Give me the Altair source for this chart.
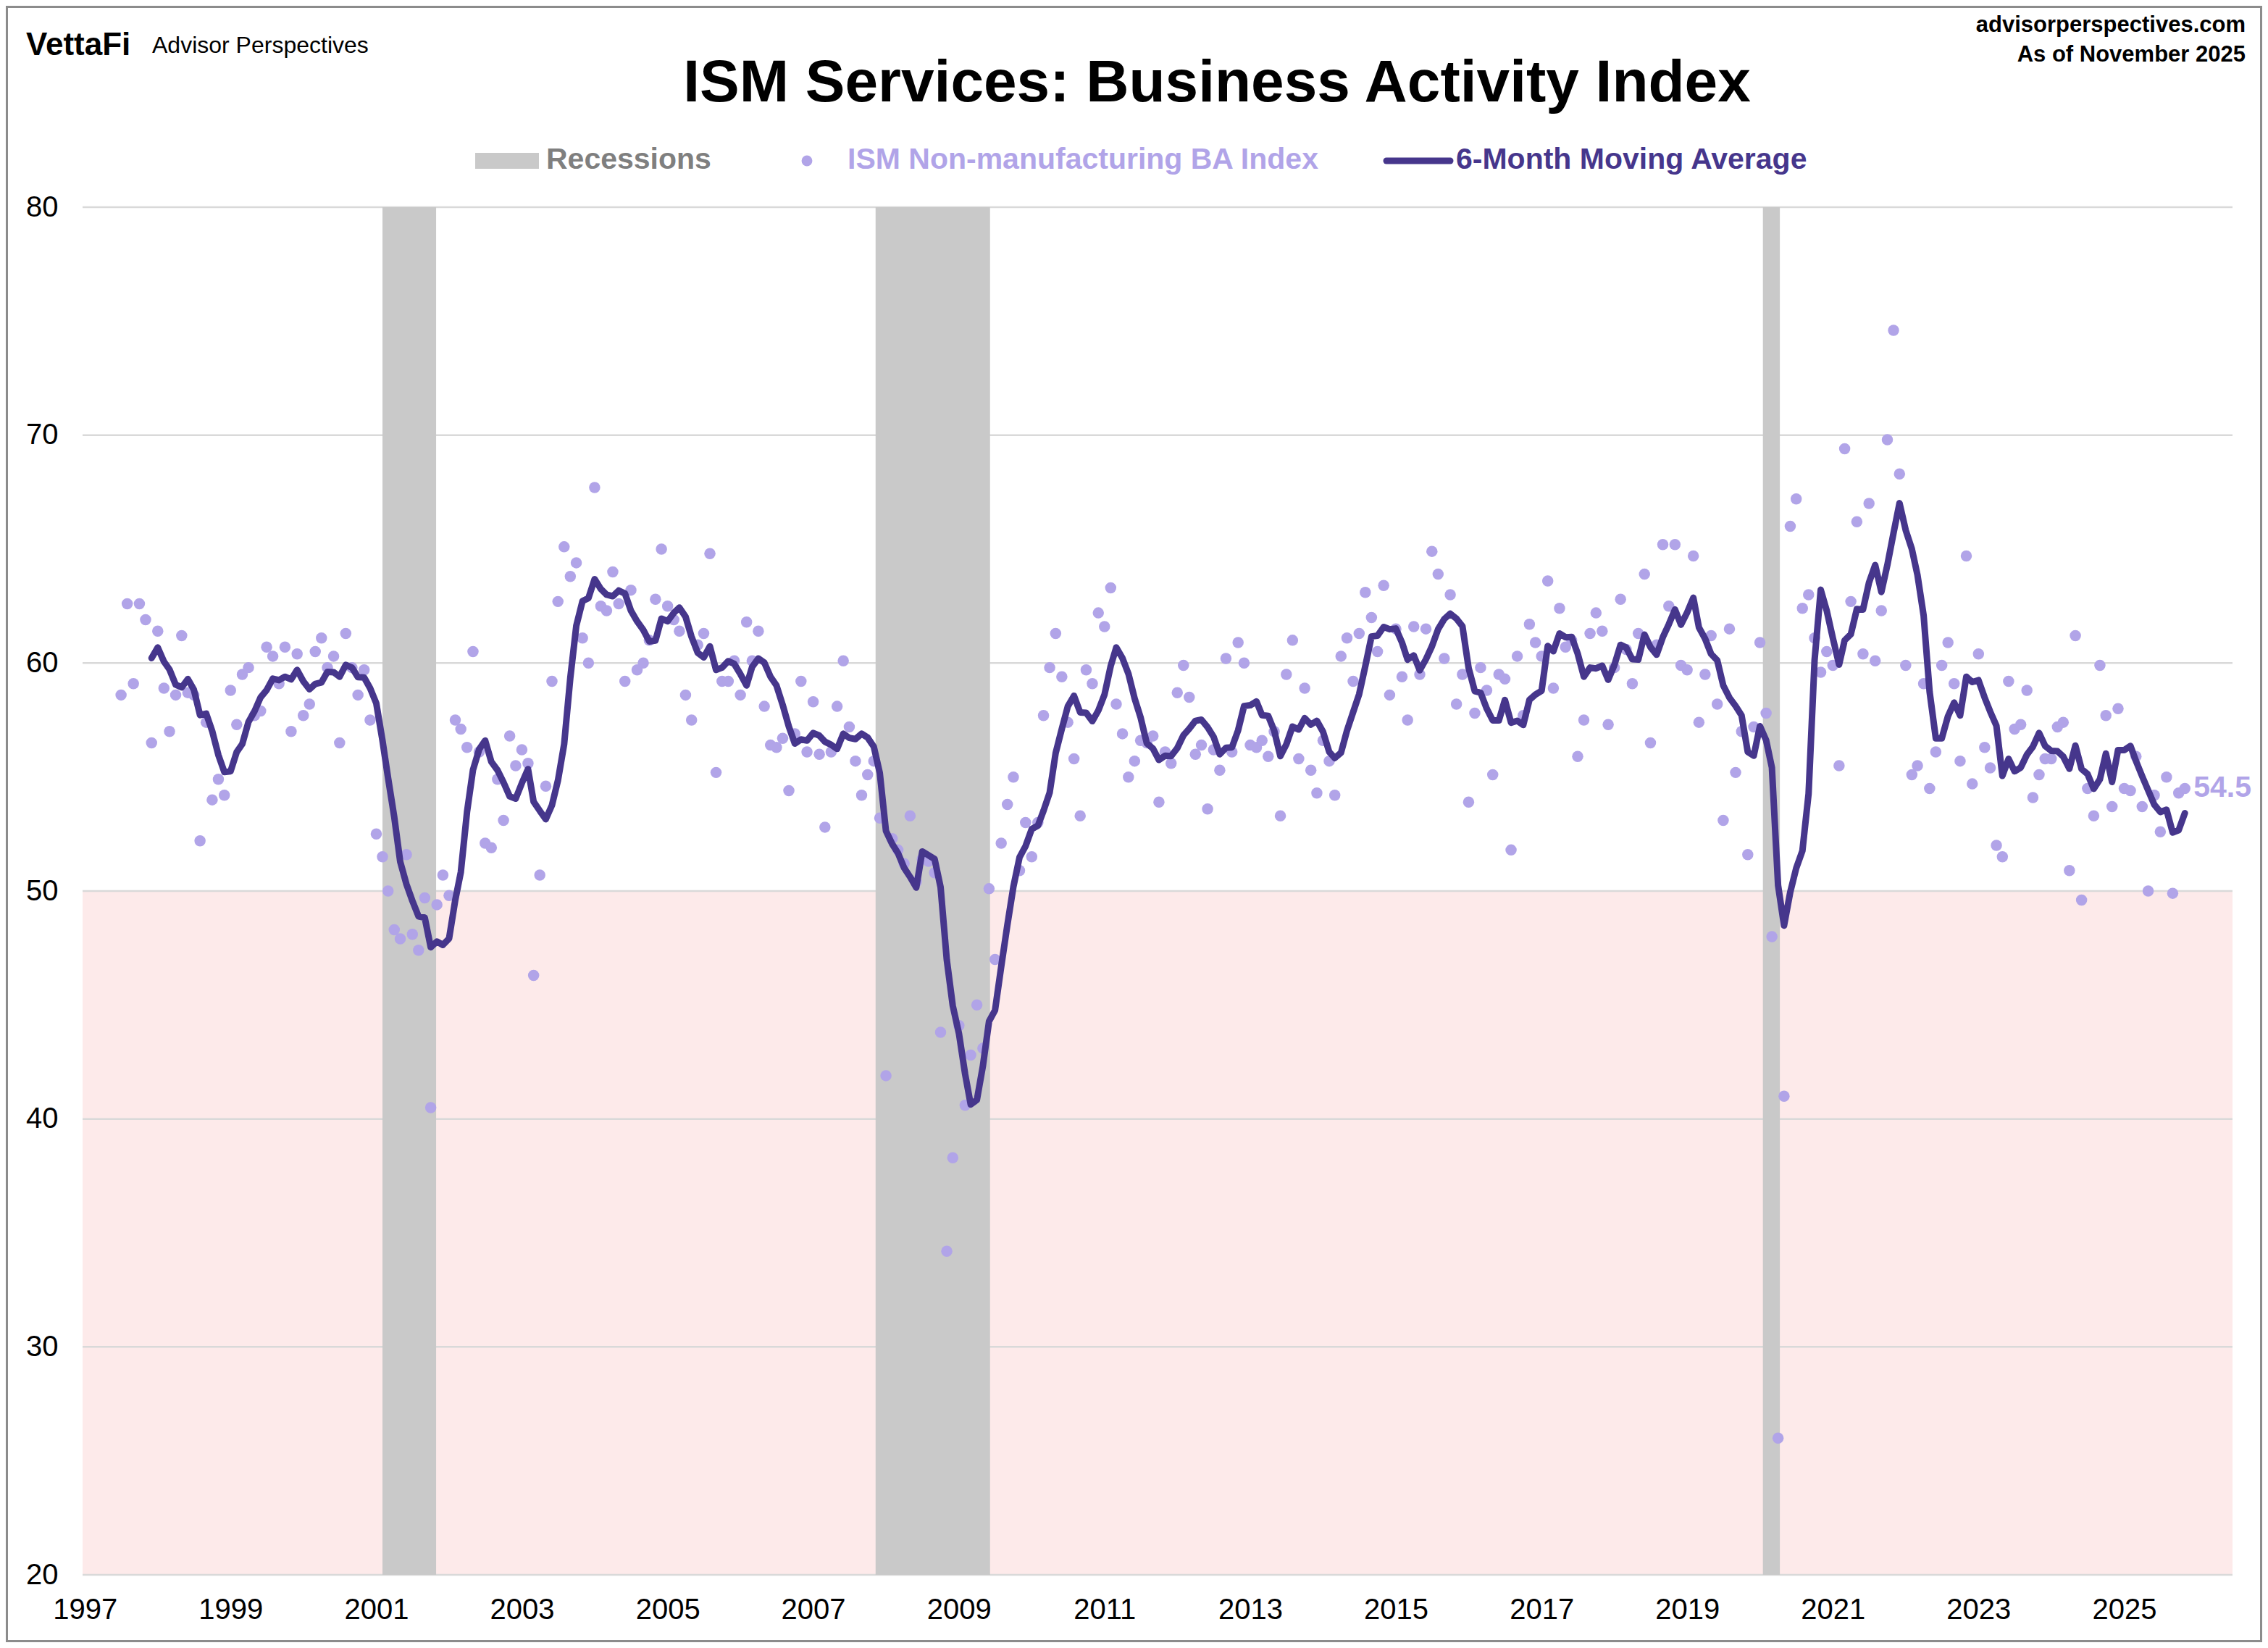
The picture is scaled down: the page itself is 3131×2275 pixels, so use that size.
import altair as alt
import pandas as pd

# ISM Services (non-manufacturing) Business Activity index, monthly, Jul 1997 - Nov 2025
first_month = "1997-07-01"
ba_index = [
    58.6, 62.6, 59.1, 62.6, 61.9, 56.5,                                # 1997 (Jul-Dec)
    61.4, 58.9, 57.0, 58.6, 61.2, 58.7, 58.6, 52.2, 57.4, 54.0, 54.9, 54.2,  # 1998
    58.8, 57.3, 59.5, 59.8, 57.7, 57.9, 60.7, 60.3, 59.1, 60.7, 57.0, 60.4,  # 1999
    57.7, 58.2, 60.5, 61.1, 59.8, 60.3, 56.5, 61.3, 59.8, 58.6, 59.7, 57.5,  # 2000
    52.5, 51.5, 50.0, 48.3, 47.9, 51.6, 48.1, 47.4, 49.7, 40.5, 49.4, 50.7,  # 2001
    49.8, 57.5, 57.1, 56.3, 60.5, 56.1, 52.1, 51.9, 54.9, 53.1, 56.8, 55.5,  # 2002
    56.2, 55.6, 46.3, 50.7, 54.6, 59.2, 62.7, 65.1, 63.8, 64.4, 61.1, 60.0,  # 2003
    67.7, 62.5, 62.3, 64.0, 62.6, 59.2, 63.2, 59.7, 60.0, 61.0, 62.8, 65.0,  # 2004
    62.5, 61.9, 61.4, 58.6, 57.5, 60.8, 61.3, 64.8, 55.2, 59.2, 59.2, 60.1,  # 2005
    58.6, 61.8, 60.1, 61.4, 58.1, 56.4, 56.3, 56.7, 54.4, 56.9, 59.2, 56.1,  # 2006
    58.3, 56.0, 52.8, 56.1, 58.1, 60.1, 57.2, 55.7, 54.2, 55.1, 55.7, 53.2,  # 2007
    41.9, 52.3, 51.8, 51.2, 53.3, 50.4, 51.4, 51.3, 50.8, 43.8, 34.2, 38.3,  # 2008
    44.1, 40.6, 42.8, 45.0, 43.1, 50.1, 47.0, 52.1, 53.8, 55.0, 50.9, 53.0,  # 2009
    51.5, 53.0, 57.7, 59.8, 61.3, 59.4, 57.4, 55.8, 53.3, 59.7, 59.1, 62.2,  # 2010
    61.6, 63.3, 58.2, 56.9, 55.0, 55.7, 56.6, 56.5, 56.8, 53.9, 56.1, 55.6,  # 2011
    58.7, 59.9, 58.5, 56.0, 56.4, 53.6, 56.2, 55.3, 60.2, 56.1, 60.9, 60.0,  # 2012
    56.4, 56.3, 56.6, 55.9, 57.0, 53.3, 59.5, 61.0, 55.8, 58.9, 55.3, 54.3,  # 2013
    56.6, 55.7, 54.2, 60.3, 61.1, 59.2, 61.3, 63.1, 62.0, 60.5, 63.4, 58.6,  # 2014
    61.5, 59.4, 57.5, 61.6, 59.5, 61.5, 64.9, 63.9, 60.2, 63.0, 58.2, 59.5,  # 2015
    53.9, 57.8, 59.8, 58.8, 55.1, 59.5, 59.3, 51.8, 60.3, 57.7, 61.7, 60.9,  # 2016
    60.3, 63.6, 58.9, 62.4, 60.7, 61.0, 55.9, 57.5, 61.3, 62.2, 61.4, 57.3,  # 2017
    59.8, 62.8, 60.6, 59.1, 61.3, 63.9, 56.5, 60.8, 65.2, 62.5, 65.2, 59.9,  # 2018
    59.7, 64.7, 57.4, 59.5, 61.2, 58.2, 53.1, 61.5, 55.2, 57.0, 51.6, 57.2,  # 2019
    60.9, 57.8, 48.0, 26.0, 41.0, 66.0, 67.2, 62.4, 63.0, 61.1, 59.6, 60.5,  # 2020
    59.9, 55.5, 69.4, 62.7, 66.2, 60.4, 67.0, 60.1, 62.3, 69.8, 74.6, 68.3,  # 2021
    59.9, 55.1, 55.5, 59.1, 54.5, 56.1, 59.9, 60.9, 59.1, 55.7, 64.7, 54.7,  # 2022
    60.4, 56.3, 55.4, 52.0, 51.5, 59.2, 57.1, 57.3, 58.8, 54.1, 55.1, 55.8,  # 2023
    55.8, 57.2, 57.4, 50.9, 61.2, 49.6, 54.5, 53.3, 59.9, 57.7, 53.7, 58.0,  # 2024
    54.5, 54.4, 55.9, 53.7, 50.0, 54.2, 52.6, 55.0, 49.9, 54.3, 54.5,        # 2025 (Jan-Nov)
]

# shaded recession bars (edges as drawn)
recession_start = ["2001-02-01", "2007-11-10", "2020-01-16"]
recession_end = ["2001-10-28", "2009-06-06", "2020-04-10"]

y_ticks = [20, 30, 40, 50, 60, 70, 80]
x_tick_years = list(range(1997, 2026, 2))
contraction = {"lo": [20], "hi": [50]}

legend_labels = ["Recessions", "ISM Non-manufacturing BA Index", "6-Month Moving Average"]

# colours
PINK = "#fdeaea"
GRID = "#d9d9d9"
RECESSION = "#c9c9c9"
DOT = "#b1a4e8"
LINE = "#46368c"
LEGEND_GRAY = "#7f7f7f"
BORDER = "#8c8c8c"
FONT = "Liberation Sans"

W, H = 2968, 1888

df = pd.DataFrame({
    "date": pd.date_range(first_month, periods=len(ba_index), freq="MS").strftime("%Y-%m-%d"),
    "value": ba_index,
})

xscale = alt.Scale(domain=[alt.DateTime(year=1996, month=12, date=20),
                           alt.DateTime(year=2026, month=6, date=28)])
yscale = alt.Scale(domain=[20, 80], nice=False, zero=False)

xaxis = alt.Axis(
    title=None, values=[alt.DateTime(year=y, month=1, date=1) for y in x_tick_years],
    format="%Y", grid=False, domain=False, ticks=False, tickSize=0,
    labelFontSize=40, labelColor="black", labelPadding=28, labelFont=FONT,
)
yaxis = alt.Axis(
    title=None, values=y_ticks, grid=False, domain=False, ticks=False, tickSize=0,
    labelFontSize=40, labelColor="black", labelPadding=34, labelFont=FONT,
)


def one_row():
    return pd.DataFrame({"k": [0]})


def label(text, x, y, size, color="black", weight="bold", align="left"):
    return (
        alt.Chart(pd.DataFrame({"t": [text]}))
        .mark_text(align=align, baseline="alphabetic", fontSize=size, fontWeight=weight,
                   color=color, font=FONT)
        .encode(x=alt.value(x), y=alt.value(y), text="t:N")
    )


band = (
    alt.Chart(pd.DataFrame(contraction))
    .mark_rect(color=PINK)
    .encode(y=alt.Y("hi:Q", scale=yscale, axis=yaxis), y2="lo:Q")
)

grid = (
    alt.Chart(pd.DataFrame({"v": y_ticks}))
    .mark_rule(color=GRID, strokeWidth=2.5)
    .encode(y=alt.Y("v:Q", scale=yscale, axis=yaxis))
)

recessions = (
    alt.Chart(pd.DataFrame({"start": recession_start, "end": recession_end}))
    .mark_rect(color=RECESSION)
    .encode(x=alt.X("start:T", scale=xscale, axis=xaxis), x2="end:T")
)

dots = (
    alt.Chart(df)
    .mark_circle(size=240, color=DOT, opacity=1)
    .encode(
        x=alt.X("date:T", scale=xscale, axis=xaxis),
        y=alt.Y("value:Q", scale=yscale, axis=yaxis),
    )
)

moving_avg = (
    alt.Chart(df)
    .transform_window(ma="mean(value)", n="count()", frame=[-5, 0], sort=[alt.SortField("date")])
    .transform_filter("datum.n == 6")
    .mark_line(color=LINE, strokeWidth=9, strokeJoin="round", strokeCap="round")
    .encode(
        x=alt.X("date:T", scale=xscale, axis=xaxis),
        y=alt.Y("ma:Q", scale=yscale, axis=yaxis),
    )
)

end_label = (
    alt.Chart(df.tail(1))
    .mark_text(align="left", baseline="middle", dx=12, fontSize=41, fontWeight="bold",
               color=DOT, font=FONT)
    .encode(
        x=alt.X("date:T", scale=xscale, axis=xaxis),
        y=alt.Y("value:Q", scale=yscale, axis=yaxis),
        text=alt.Text("value:Q", format=".1f"),
    )
)

# legend row above the plot
leg_box = alt.Chart(one_row()).mark_rect(color=RECESSION).encode(
    x=alt.value(542), x2=alt.value(630), y=alt.value(-75), y2=alt.value(-53))
leg_dot = alt.Chart(one_row()).mark_circle(size=220, color=DOT, opacity=1).encode(
    x=alt.value(1000), y=alt.value(-64))
leg_line = alt.Chart(one_row()).mark_rule(color=LINE, strokeWidth=9, strokeCap="round").encode(
    x=alt.value(1800), x2=alt.value(1888), y=alt.value(-64))
leg_text = [
    label(legend_labels[0], 640, -53, 41, LEGEND_GRAY),
    label(legend_labels[1], 1056, -53, 41, DOT),
    label(legend_labels[2], 1896, -53, 41, LINE),
]

header = [
    label("VettaFi", -78, -210, 44),
    label("Advisor Perspectives", 96, -213, 32, weight="normal"),
    label("advisorperspectives.com", 2986, -242, 31, align="right"),
    label("As of November 2025", 2986, -201, 31, align="right"),
    label("ISM Services: Business Activity Index", 1566, -146, 82, align="center"),
]

frame = alt.Chart(one_row()).mark_rect(fillOpacity=0, stroke=BORDER, strokeWidth=3).encode(
    x=alt.value(-104.5), x2=alt.value(3007.5), y=alt.value(-276.5), y2=alt.value(1979.5))

chart = (
    alt.layer(band, grid, recessions, dots, moving_avg, end_label,
              leg_box, leg_dot, leg_line, *leg_text, *header, frame)
    .properties(width=W, height=H, padding=0, background="white")
    .configure(font=FONT)
    .configure_view(stroke=None)
)

chart.save("out.html", embed_options={"renderer": "svg", "actions": False})
